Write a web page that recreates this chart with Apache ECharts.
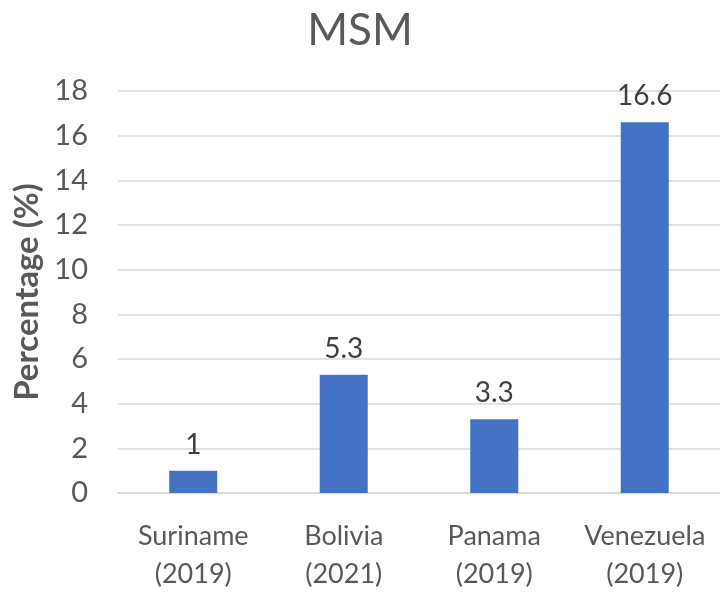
<!DOCTYPE html>
<html><head><meta charset="utf-8">
<script src="https://cdn.jsdelivr.net/npm/echarts@6/dist/echarts.min.js"></script>
<style>html,body{margin:0;padding:0;background:#fff}#c{width:720px;height:593px}</style>
</head><body><div id="c"></div>
<script>
const categories = ["Suriname\n(2019)", "Bolivia\n(2021)", "Panama\n(2019)", "Venezuela\n(2019)"];
const values = [1, 5.3, 3.3, 16.6];
const yTicks = [0, 2, 4, 6, 8, 10, 12, 14, 16, 18];
const FONT = "Lato";
const chart = echarts.init(document.getElementById('c'));
chart.setOption({
  animation: false,
  title: { text: "MSM", left: "center", top: 4, textStyle: { fontFamily: FONT, fontSize: 44, fontWeight: "normal", color: "#595959" } },
  grid: { left: 118, right: -8, top: 91, bottom: 98 },
  xAxis: {
    type: "category", data: categories,
    axisLine: { lineStyle: { color: "#d9d9d9", width: 1.5 } },
    axisTick: { show: false },
    axisLabel: { interval: 0, hideOverlap: false, fontFamily: FONT, fontSize: 27, color: "#595959", lineHeight: 38, margin: 24 }
  },
  yAxis: {
    type: "value", min: yTicks[0], max: yTicks[yTicks.length - 1], interval: 2,
    name: "Percentage (%)", nameLocation: "middle", nameGap: 72,
    nameTextStyle: { fontFamily: FONT, fontSize: 33, fontWeight: "bold", color: "#595959" },
    axisLine: { show: false }, axisTick: { show: false },
    splitLine: { lineStyle: { color: "#d9d9d9", width: 1.5 } },
    axisLabel: { fontFamily: FONT, fontSize: 29, color: "#595959", margin: 30 }
  },
  series: [{
    type: "bar", data: values, barWidth: 48,
    itemStyle: { color: "#4472C4" },
    label: { show: true, position: "top", distance: 12, fontFamily: FONT, fontSize: 28, color: "#404040" }
  }]
});
</script></body></html>
